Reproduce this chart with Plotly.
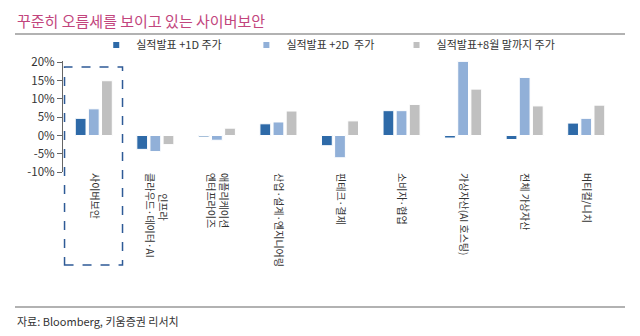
import plotly.graph_objects as go

NB = "\u00a0"
categories = ["사이버보안", NB * 9 + "인프라<br>클라우드·데이터·AI", "애플리케이션<br>엔터프라이즈",
              "산업·설계·엔지니어링", "핀테크·결제", "소비자·협업",
              "가상자산(AI 호스팅)", "전체 가상자산", "버티컬/니치"]
series_names = ["실적발표 +1D 주가", "실적발표 +2D  주가", "실적발표+8월 말까지 주가"]
d1 = [4.7, -3.8, -0.4, 3.2, -2.8, 6.8, -0.7, -1.1, 3.4]
d2 = [7.3, -4.4, -1.3, 3.7, -6.1, 6.8, 20.3, 15.9, 4.7]
aug = [15.0, -2.5, 2.0, 6.7, 4.0, 8.5, 12.7, 8.1, 8.3]
y_ticks = [-10, -5, 0, 5, 10, 15, 20]
colors = ["#2e6aa8", "#91b0d8", "#c0c0c0"]
legend_pad = [8, 7, 0]

FONT = "Noto Sans CJK KR"
fig = go.Figure()
idx = list(range(len(categories)))
for name, vals, c in zip(series_names, [d1, d2, aug], colors):
    fig.add_trace(go.Bar(x=idx, y=vals, name=name, showlegend=False,
                         marker=dict(color=c, line=dict(color="white", width=1))))
# legend entries with small square markers
for name, c, p in zip(series_names, colors, legend_pad):
    fig.add_trace(go.Scatter(x=[None], y=[None], mode="markers",
                             name=name.replace("  ", NB + NB) + NB * p,
                             marker=dict(symbol="square", size=6, color=c), hoverinfo="skip"))

fig.update_layout(
    width=640, height=336, margin=dict(l=63, r=23, t=61, b=164),
    paper_bgcolor="white", plot_bgcolor="white",
    barmode="group", bargap=0.36, bargroupgap=0.18,
    font=dict(family=FONT, size=11, color="#333"),
    showlegend=True,
    legend=dict(orientation="h", x=0.06, y=1.144, xanchor="left", yanchor="middle",
                itemwidth=30,
                font=dict(size=11, color="#333"), bgcolor="rgba(0,0,0,0)", tracegroupgap=0),
    xaxis=dict(range=[-0.5, 8.5], tickvals=idx, ticktext=categories, tickangle=90,
               showline=False, ticks="", showgrid=False, zeroline=False,
               tickfont=dict(size=10, color="#333")),
    xaxis2=dict(overlaying="x", anchor="free", position=10/30.4, range=[-0.5, 8.5],
                showline=True, linecolor="#666", linewidth=1, ticks="outside", ticklen=3,
                tickcolor="#666", tickvals=[i + 0.5 for i in idx], showticklabels=False,
                showgrid=False, zeroline=False),
    yaxis=dict(range=[-10, 20.4], tickvals=y_ticks, ticktext=[f"{v}%" for v in y_ticks],
               showline=True, linecolor="#666", linewidth=1, ticks="outside", ticklen=5,
               tickcolor="#666", showgrid=False, zeroline=False,
               tickfont=dict(size=11.5, color="#333")),
    shapes=[
        dict(type="rect", xref="x", yref="paper", x0=-0.475, x1=0.467, y0=-0.838, y1=0.946,
             line=dict(color="#2e5a96", width=1.5, dash="dash"), fillcolor="rgba(0,0,0,0)"),
        dict(type="line", xref="paper", yref="paper", x0=-48/554, x1=562/554,
             y0=(172-34)/111, y1=(172-34)/111, line=dict(color="#999", width=1.5)),
        dict(type="line", xref="paper", yref="paper", x0=-48/554, x1=562/554,
             y0=(172-307)/111, y1=(172-307)/111, line=dict(color="#999", width=1.5)),
    ],
    annotations=[
        dict(text="꾸준히 오름세를 보이고 있는 사이버보안", xref="paper", yref="paper",
             x=-48/554, y=(172-20)/111, xanchor="left", yanchor="middle", showarrow=False,
             font=dict(family=FONT, size=15, color="#c2457d")),
        dict(text="자료: Bloomberg, 키움증권 리서치", xref="paper", yref="paper",
             x=-48/554, y=(172-321)/111, xanchor="left", yanchor="middle", showarrow=False,
             font=dict(family=FONT, size=11, color="#333")),
    ],
)
fig.write_html("out.html")
